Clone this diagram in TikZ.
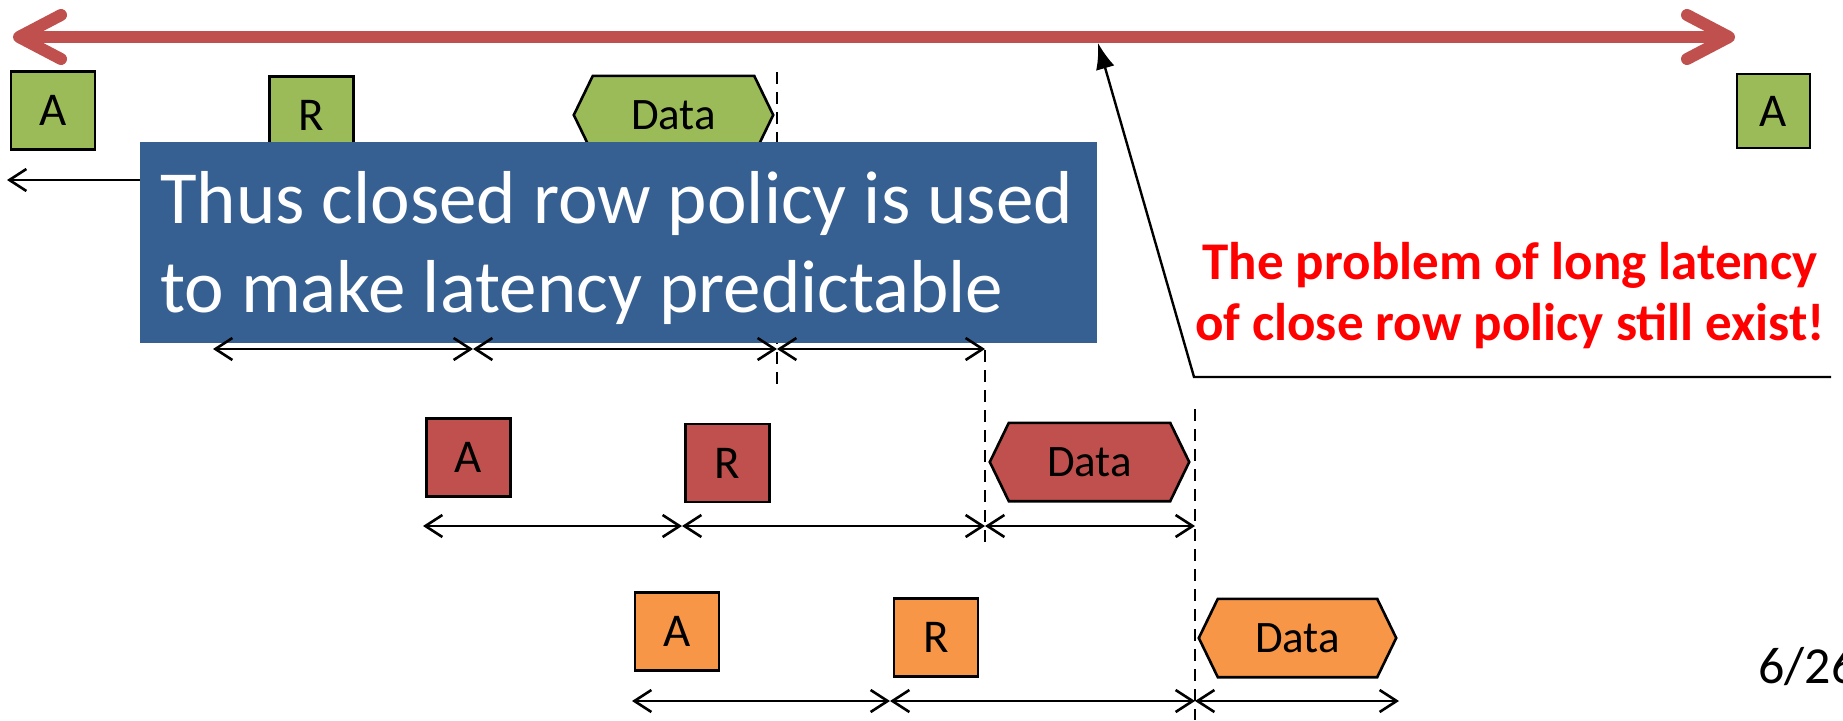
\documentclass[tikz,border=0pt]{standalone}
\usepackage{fontspec}
\setmainfont{Carlito}
\usetikzlibrary{arrows.meta}
\definecolor{cgreen}{HTML}{9BBB59}
\definecolor{cred}{HTML}{C0504D}
\definecolor{corange}{HTML}{F79646}
\definecolor{cblue}{HTML}{376092}
\definecolor{cline}{HTML}{C0504D}
\pgfdeclarelayer{bg}
\pgfsetlayers{bg,main}
\tikzset{
  boxline/.style={draw=black, line width=2.6pt, line join=miter},
  cmd/.style={boxline, rectangle, inner sep=0pt, minimum width=84pt, minimum height=78pt,
    font=\fontsize{47}{56}\selectfont},
  hexbox/.style={rectangle, inner sep=0pt, minimum width=199pt, minimum height=78pt,
    font=\fontsize{45}{54}\selectfont},
  span/.style={line width=2.6pt, {Straight Barb[length=17pt,width=22pt]}-{Straight Barb[length=17pt,width=22pt]}},
  guide/.style={line width=2.4pt, dash pattern=on 12pt off 8pt},
}
\begin{document}
\begin{tikzpicture}[x=1pt,y=-1pt]
\useasboundingbox (0,0) rectangle (1843,720);

% time line
\coordinate (tl) at (13,37);
\coordinate (tr) at (1735,37);
\draw[cline, line width=12pt, {Straight Barb[length=42pt,width=44pt,round]}-{Straight Barb[length=42pt,width=44pt,round]}] (tl) -- (tr);

% first access (green)
\node[cmd, fill=cgreen] (gA1) at (53,110.5) {A};
\node[cmd, fill=cgreen] (gR1) at (311.5,115.5) {R};
\node[hexbox] (gD1) at (673.5,115) {Data};
\node[cmd, fill=cgreen, minimum width=73pt, minimum height=74pt] (gA2) at (1773.5,111) {A};

% second access (red)
\node[cmd, fill=cred] (rA) at (468.5,457.5) {A};
\node[cmd, fill=cred] (rR) at (727.5,463) {R};
\node[hexbox] (rD) at (1089.5,462) {Data};

% third access (orange)
\node[cmd, fill=corange] (oA) at (677,631.5) {A};
\node[cmd, fill=corange] (oR) at (936,637.5) {R};
\node[hexbox, minimum width=197pt] (oD) at (1297.5,638) {Data};

\begin{pgfonlayer}{bg}
\foreach \n/\c in {gD1/cgreen, rD/cred, oD/corange}
  \draw[boxline, fill=\c] (\n.west) -- ([xshift=19pt]\n.north west) -- ([xshift=-19pt]\n.north east)
    -- (\n.east) -- ([xshift=-19pt]\n.south east) -- ([xshift=19pt]\n.south west) -- cycle;
\end{pgfonlayer}

% boundaries of the data bursts
\coordinate (v1t) at (777,72);   \coordinate (v1b) at (777,388);
\coordinate (v2t) at (985,330);  \coordinate (v2b) at (985,545);
\coordinate (v3t) at (1195,409); \coordinate (v3b) at (1195,720);
\draw[guide] (v1t) -- (v1b);
\draw[guide] (v2t) -- (v2b);
\draw[guide] (v3t) -- (v3b);

% latency before the first access
\coordinate (p0) at (140,180);
\coordinate (p1) at (7,180);
\draw[line width=2.6pt, -{Straight Barb[length=17pt,width=22pt]}] (p0) -- (p1);

% closed row policy note
\node[rectangle, fill=cblue, inner sep=0pt, minimum width=957pt, minimum height=201pt] (note) at (618.5,242.5) {};
\node[anchor=base west, inner sep=0pt, align=left, text=white, font=\fontsize{75}{89}\selectfont] (notetext) at (160,312)
  {Thus closed row policy is used\\to make latency predictable};

% latency spans
\coordinate (a0) at (213,349); \coordinate (a1) at (473,349); \coordinate (a2) at (777,349); \coordinate (a3) at (985,349);
\coordinate (b0) at (423,526); \coordinate (b1) at (682,526); \coordinate (b2) at (985,526); \coordinate (b3) at (1195,526);
\coordinate (c0) at (632,701); \coordinate (c1) at (890,701); \coordinate (c2) at (1195,701); \coordinate (c3) at (1399,701);
\draw[span] (a0) -- (a1); \draw[span] (a1) -- (a2); \draw[span] (a2) -- (a3);
\draw[span] (b0) -- (b1); \draw[span] (b1) -- (b2); \draw[span] (b2) -- (b3);
\draw[span] (c0) -- (c1); \draw[span] (c1) -- (c2); \draw[span] (c2) -- (c3);

% remark on the long latency
\node[anchor=base, inner sep=0pt, align=center, text=red, font=\bfseries\fontsize{53}{61}\selectfont] (problem) at (1510,340)
  {The problem of long latency\\of close row policy still exist!};
\coordinate (k0) at (1831,377);
\coordinate (k1) at (1194,377);
\coordinate (k2) at (1098,43);
\draw[line width=2.4pt, -{Latex[length=26pt,width=19pt]}] (k0) -- (k1) -- (k2);

% slide number
\node[anchor=base west, inner sep=0pt, font=\fontsize{52}{62}\selectfont] (pagenum) at (1758,683) {6/26};
\end{tikzpicture}
\end{document}
